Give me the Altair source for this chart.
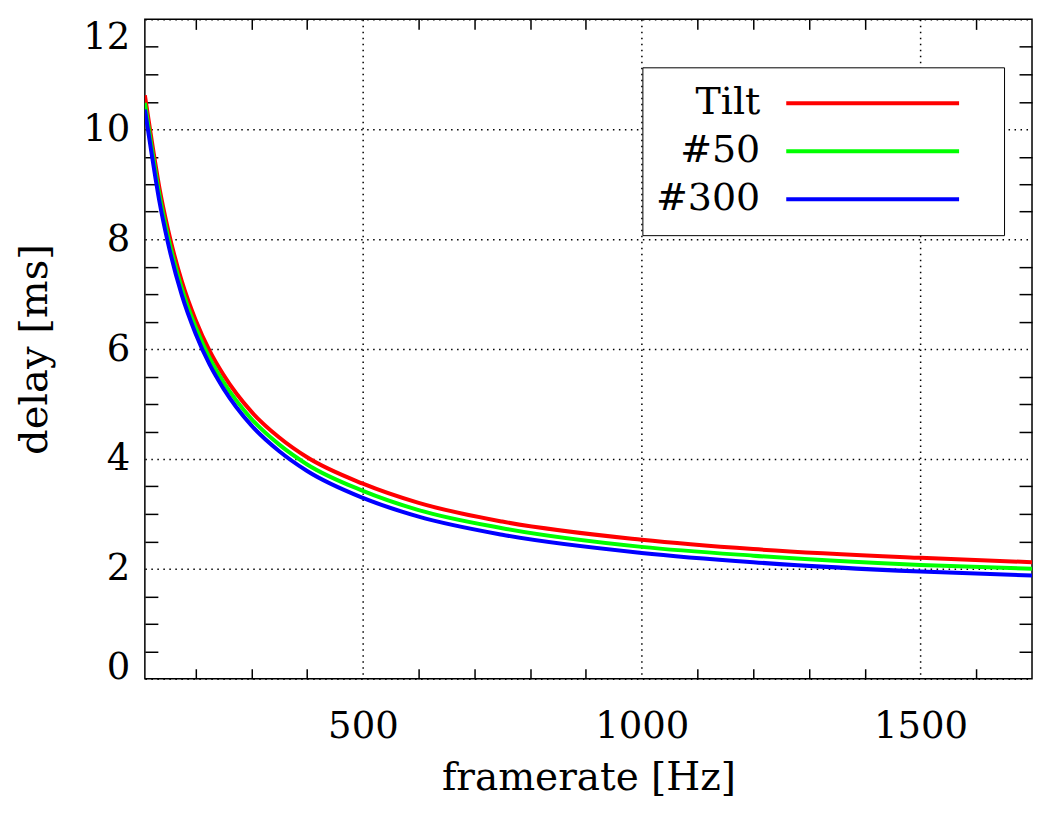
import altair as alt
import pandas as pd

# ---- data ----
freq = [109, 120, 135, 150, 175, 200, 225, 250, 300, 350, 400, 500, 600, 750, 1000, 1200, 1500, 1700]
tilt = [10.62, 9.88, 8.94, 8.20, 7.24, 6.53, 5.97, 5.53, 4.86, 4.39, 4.03, 3.55, 3.20, 2.86, 2.53, 2.36, 2.20, 2.12]
n50 = [10.48, 9.75, 8.81, 8.07, 7.11, 6.40, 5.84, 5.40, 4.73, 4.26, 3.90, 3.42, 3.07, 2.74, 2.40, 2.24, 2.07, 2.00]
n300 = [10.36, 9.63, 8.69, 7.95, 6.99, 6.28, 5.72, 5.28, 4.61, 4.14, 3.78, 3.29, 2.95, 2.62, 2.29, 2.12, 1.95, 1.88]

series_names = ["Tilt", "#50", "#300"]
series_colors = ["#ff0000", "#00ff00", "#0000ff"]

x_major = [500, 1000, 1500]
x_minor = [200, 300, 400, 600, 700, 800, 900, 1100, 1200, 1300, 1400, 1600]
y_major = [0, 2, 4, 6, 8, 10, 12]
y_minor = [0.5, 1, 1.5, 2.5, 3, 3.5, 4.5, 5, 5.5, 6.5, 7, 7.5, 8.5, 9, 9.5, 10.5, 11, 11.5]
x_domain = [109, 1700]
y_domain = [0, 12]

rows = []
for name, vals in zip(series_names, [tilt, n50, n300]):
    for f, d in zip(freq, vals):
        rows.append({"framerate": f, "delay": d, "series": name})
df = pd.DataFrame(rows)

W, H = 888, 660
FONT = "DejaVu Serif"
DOT = [1.5, 4.5]

xs = alt.Scale(domain=x_domain, nice=False, zero=False)
ys = alt.Scale(domain=y_domain, nice=False, zero=False)

base = alt.Chart(df)

main = base.mark_line(strokeWidth=4, interpolate="monotone", clip=True).encode(
    x=alt.X(
        "framerate:Q", scale=xs,
        axis=alt.Axis(
            orient="bottom", values=x_major, ticks=False, tickSize=0, domain=False,
            grid=True, gridColor="black", gridDash=DOT, gridWidth=1.5, gridOpacity=1,
            labelPadding=30, labelFontSize=37, format="d",
            title="framerate [Hz]", titleFontSize=39, titlePadding=14,
        ),
    ),
    y=alt.Y(
        "delay:Q", scale=ys,
        axis=alt.Axis(
            orient="left", values=y_major, ticks=False, tickSize=0, domain=False,
            grid=True, gridColor="black", gridDash=DOT, gridWidth=1.5, gridOpacity=1,
            labelPadding=15, labelFontSize=37, format="d",
            labelBaseline={
                "condition": [
                    {"test": "datum.value == 0", "value": "alphabetic"},
                    {"test": "datum.value == 12", "value": "top"},
                ],
                "value": "middle",
            },
            title="delay [ms]", titleFontSize=40, titlePadding=28,
        ),
    ),
    color=alt.Color(
        "series:N",
        scale=alt.Scale(domain=series_names, range=series_colors),
        legend=alt.Legend(
            orient="none", legendX=498, legendY=48, title=None,
            symbolType="M 10.8 0 L 28.1 0 M 30.1 0", symbolSize=400, symbolStrokeWidth=4,
            labelAlign="right", labelOffset=63, labelFontSize=38, labelFont=FONT,
            labelColor="black", padding=17, rowPadding=10,
            strokeColor="black", fillColor="white", cornerRadius=0,
        ),
    ),
)

minor_a = base.mark_line(opacity=0).encode(
    x=alt.X(
        "framerate:Q", scale=xs, title=None,
        axis=alt.Axis(orient="top", offset=-H, values=x_minor, labels=False, domain=False,
                      grid=False, ticks=True, tickSize=10, tickColor="black", tickWidth=1.5),
    ),
    y=alt.Y(
        "delay:Q", scale=ys, title=None,
        axis=alt.Axis(orient="right", offset=-W, values=y_minor, labels=False, domain=False,
                      grid=False, ticks=True, tickSize=13, tickColor="black", tickWidth=1.5),
    ),
)

minor_b = base.mark_line(opacity=0).encode(
    x=alt.X(
        "framerate:Q", scale=xs, title=None,
        axis=alt.Axis(orient="bottom", offset=-H, values=x_minor, labels=False, domain=False,
                      grid=False, ticks=True, tickSize=10, tickColor="black", tickWidth=1.5),
    ),
    y=alt.Y(
        "delay:Q", scale=ys, title=None,
        axis=alt.Axis(orient="left", offset=-W, values=y_minor, labels=False, domain=False,
                      grid=False, ticks=True, tickSize=13, tickColor="black", tickWidth=1.5),
    ),
)

chart = (
    alt.layer(minor_a, minor_b, main)
    .resolve_axis(x="independent", y="independent")
    .properties(
        width=W, height=H,
        autosize=alt.AutoSizeParams(type="none"),
        padding={"left": 137, "top": 11, "right": 12, "bottom": 125},
        background="white",
    )
    .configure_view(stroke="black", strokeWidth=1.5)
    .configure_axis(
        labelFont=FONT, titleFont=FONT, labelColor="black", titleColor="black",
        titleFontWeight="normal",
    )
)

chart.save("out.html", embed_options={"renderer": "svg", "actions": False})
